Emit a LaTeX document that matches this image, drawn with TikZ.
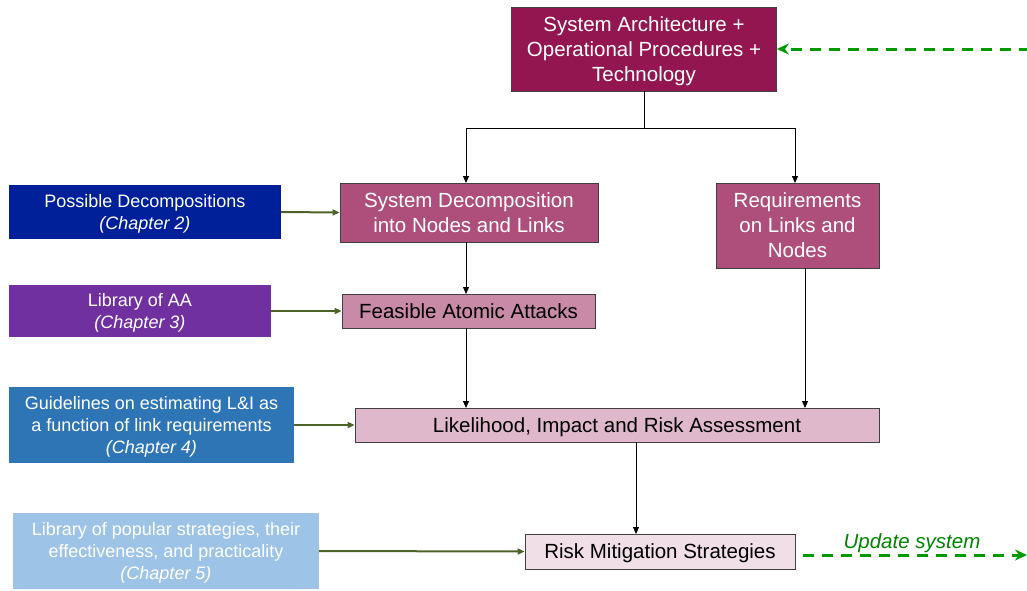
\documentclass[tikz,border=0pt]{standalone}
\usepackage{fontspec}
\setmainfont{Liberation Sans}
\usetikzlibrary{arrows.meta}

\definecolor{archfill}{HTML}{941651}
\definecolor{midfill}{HTML}{AE4E7A}
\definecolor{atkfill}{HTML}{C98AA8}
\definecolor{riskfill}{HTML}{DFB8CB}
\definecolor{mitfill}{HTML}{F0DFE6}
\definecolor{decfill}{HTML}{00209A}
\definecolor{aafill}{HTML}{7030A0}
\definecolor{guidefill}{HTML}{2E75B6}
\definecolor{stratfill}{HTML}{9DC3E6}
\definecolor{feedgreen}{HTML}{4F6228}
\definecolor{loopgreen}{HTML}{009A00}

\tikzset{
  mainbox/.style={draw=black!75, line width=0.8pt, align=center, inner sep=0pt,
    text depth=0pt, font=\fontsize{20.5}{25}\selectfont},
  srcbox/.style={align=center, inner sep=0pt, text=white, text depth=0pt,
    font=\fontsize{18}{22}\selectfont},
  flow/.style={draw=black, line width=0.8pt, -{Triangle[length=7pt,width=6pt]}},
  feed/.style={draw=feedgreen, line width=2pt, -{Triangle[length=7pt,width=6pt]}},
  loop/.style={draw=loopgreen, line width=3pt, dash pattern=on 11pt off 8pt,
    -{Stealth[length=12pt,width=11pt,inset=4pt]}},
}

\begin{document}
\begin{tikzpicture}[x=1pt,y=-1pt]
\useasboundingbox (0,0) rectangle (1027,590);
\clip (0,0) rectangle (1027,590);

% main chain
\node[mainbox, fill=archfill, text=white, minimum width=265pt, minimum height=84pt]
  (arch) at (644,49) {System Architecture +\\Operational Procedures +\\Technology};
\node[mainbox, fill=midfill, text=white, minimum width=258pt, minimum height=59pt]
  (decomp) at (469,212.5) {System Decomposition\\into Nodes and Links};
\node[mainbox, fill=midfill, text=white, minimum width=163pt, minimum height=85pt]
  (req) at (797.5,225.5) {Requirements\\on Links and\\Nodes};
\node[mainbox, fill=atkfill, text=black, minimum width=253pt, minimum height=34pt]
  (atk) at (468.5,311) {Feasible Atomic Attacks};
\node[mainbox, fill=riskfill, text=black, minimum width=524pt, minimum height=34pt]
  (risk) at (617,425) {Likelihood, Impact and Risk Assessment};
\node[mainbox, fill=mitfill, text=black, minimum width=270pt, minimum height=35pt]
  (mit) at (660,551.5) {Risk Mitigation Strategies};

% source material
\node[srcbox, fill=decfill, minimum width=272pt, minimum height=54pt]
  (srcdec) at (145,212) {Possible Decompositions\\\textit{(Chapter 2)}};
\node[srcbox, fill=aafill, minimum width=262pt, minimum height=52pt]
  (srcaa) at (140,311) {Library of AA\\\textit{(Chapter 3)}};
\node[srcbox, fill=guidefill, minimum width=285pt, minimum height=76pt]
  (srcguide) at (151.5,425) {Guidelines on estimating L\&I as\\a function of link requirements\\\textit{(Chapter 4)}};
\node[srcbox, fill=stratfill, minimum width=306pt, minimum height=76pt]
  (srcstrat) at (166,551) {Library of popular strategies, their\\effectiveness, and practicality\\\textit{(Chapter 5)}};

% flow between steps
\coordinate (split) at (644,128);
\draw[line width=0.8pt] (arch.south) -- (split);
\draw[flow] (split) -| (466,183);
\draw[flow] (split) -| (795,183);
\draw[flow] (466,242) -- (466,294);
\draw[flow] (466,328) -- (466,408);
\draw[flow] (805,268) -- (805,408);
\draw[flow] (636,442) -- (636,534);

% inputs from the chapters
\draw[feed] (srcdec.east) -- (decomp.west);
\draw[feed] (srcaa.east) -- (atk.west);
\draw[feed] (srcguide.east) -- (risk.west);
\draw[feed] (srcstrat.east) -- (mit.west);

% update loop
\coordinate (loopin) at (1030,49);
\coordinate (loopout) at (1027,555);
\draw[loop] (loopin) -- (arch.east);
\draw[loop] (mit.east |- loopout) ++(8,0) -- (loopout);
\node[text=loopgreen!85!black, text depth=0pt, font=\fontsize{20.5}{22}\selectfont\itshape] (upd) at (912,541) {Update system};
\end{tikzpicture}
\end{document}
